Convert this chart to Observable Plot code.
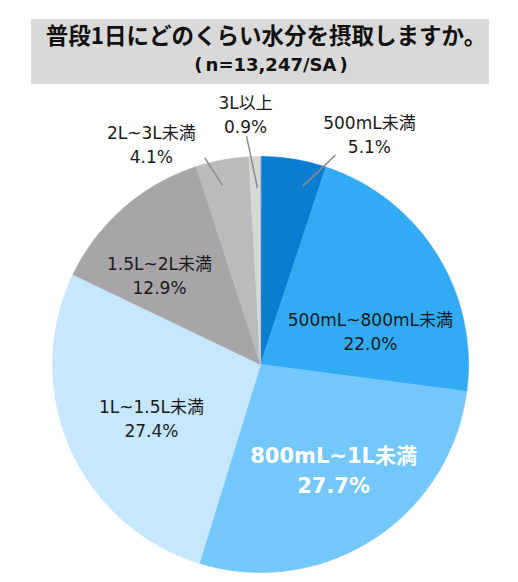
<!DOCTYPE html>
<html lang="ja">
<head>
<meta charset="utf-8">
<script src="https://cdn.jsdelivr.net/npm/d3@7"></script>
<script src="https://cdn.jsdelivr.net/npm/@observablehq/plot@0.6"></script>
<style>
  html, body { margin: 0; padding: 0; background: #ffffff; }
  body { width: 518px; height: 582px; overflow: hidden; font-family: "DejaVu Sans", "Noto Sans CJK JP", sans-serif; }
  .head { padding-top: 19px; height: 65px; }
  .box {
    margin-left: 31px; width: 458px; height: 65px; background: #d9d9d9;
    box-sizing: border-box; text-align: center; color: #111;
    font-weight: 700; overflow: hidden; white-space: nowrap;
  }
  .box .t { font-family: "Noto Sans CJK JP", sans-serif; font-size: 22.5px; line-height: 30px; height: 30px; padding-top: 0; position: relative; left: 6px; }
  .box .s { font-family: "DejaVu Sans", "Noto Sans CJK JP", sans-serif; font-size: 18px; line-height: 24px; height: 24px; margin-top: 4px; position: relative; left: 11px; }
  .box .s span { margin: 0 3px; }
</style>
</head>
<body>
<div class="head">
  <div class="box">
    <div class="t">普段1日にどのくらい水分を摂取しますか。</div>
    <div class="s">(<span>n=13,247/SA</span>)</div>
  </div>
</div>
<div id="chart"></div>
<script>
// Answer categories, clockwise from 12 o'clock
const categories = ["500mL未満", "500mL~800mL未満", "800mL~1L未満", "1L~1.5L未満", "1.5L~2L未満", "2L~3L未満", "3L以上"];
// Share of respondents (%)
const shares = [5.1, 22.0, 27.7, 27.4, 12.9, 4.1, 0.9];
// Slice colours
const colors = ["#0b7dd0", "#33abf4", "#74c7fb", "#c6e7fd", "#a7a5a8", "#bbbabd", "#d9d7d4"];

// Label placement: angle (deg, clockwise from top) and radius (fraction of pie radius)
const labelPlace = [[25.2, 1.23], [72.8, 0.553], [144.9, 0.611], [244.1, 0.583], [311.7, 0.65], [333.7, 1.185], [356.6, 1.21]];
// Leader lines for labels outside the pie: [[angle, r], [angle, r]]
const leaders = [[[13.3, 0.88], [19.7, 1.07]], null, null, null, null, [[348, 0.88], [344.9, 1.03]], [[359, 0.85], [356.5, 1.10]]];

const rad = (deg) => deg * Math.PI / 180;
const polar = (deg, r) => ({x: r * Math.sin(rad(deg)), y: r * Math.cos(rad(deg))});

const data = categories.map((c, i) => ({category: c, share: shares[i]}));
const arcs = d3.pie().sort(null).value(d => d.share)(data);

// Polygon outline of each slice: centre, then along the arc
const outline = [];
for (const a of arcs) {
  const a0 = a.startAngle * 180 / Math.PI, a1 = a.endAngle * 180 / Math.PI;
  const n = Math.max(2, Math.ceil((a1 - a0) / 0.5));
  outline.push({category: a.data.category, ...polar(0, 0)});
  for (let k = 0; k <= n; k++) outline.push({category: a.data.category, ...polar(a0 + (a1 - a0) * k / n, 1)});
}

const labels = arcs.map((a, i) => ({
  category: a.data.category,
  text: `${a.data.category}\n${a.data.share.toFixed(1)}%`,
  ...polar(labelPlace[i][0], labelPlace[i][1]),
  big: a.data.category === "800mL~1L未満"
}));

const leaderLines = [];
leaders.forEach((l, i) => {
  if (!l) return;
  const p = polar(l[0][0], l[0][1]), q = polar(l[1][0], l[1][1]);
  leaderLines.push({x1: p.x, y1: p.y, x2: q.x, y2: q.y});
});

const chart = Plot.plot({
  width: 518,
  height: 498,
  marginLeft: 52,
  marginRight: 50,
  marginTop: 72,
  marginBottom: 10,
  x: {domain: [-1, 1], axis: null},
  y: {domain: [-1, 1], axis: null},
  color: {domain: categories, range: colors},
  style: {fontFamily: "'DejaVu Sans', 'Noto Sans CJK JP', sans-serif", background: "transparent"},
  marks: [
    Plot.line(outline, {x: "x", y: "y", z: "category", fill: "category", stroke: "category", strokeWidth: 0.6, curve: "linear-closed"}),
    Plot.link(leaderLines, {x1: "x1", y1: "y1", x2: "x2", y2: "y2", stroke: "#8c8c8c", strokeWidth: 1.5}),
    Plot.text(labels.filter(d => !d.big), {x: "x", y: "y", text: "text", fontSize: 17, lineHeight: 1.4, fill: "#1a1a1a"}),
    Plot.text(labels.filter(d => d.big), {x: "x", y: "y", text: "text", fontSize: 21, fontWeight: "bold", lineHeight: 1.45, fill: "#ffffff"})
  ]
});
document.getElementById("chart").appendChild(chart);
</script>
</body>
</html>
